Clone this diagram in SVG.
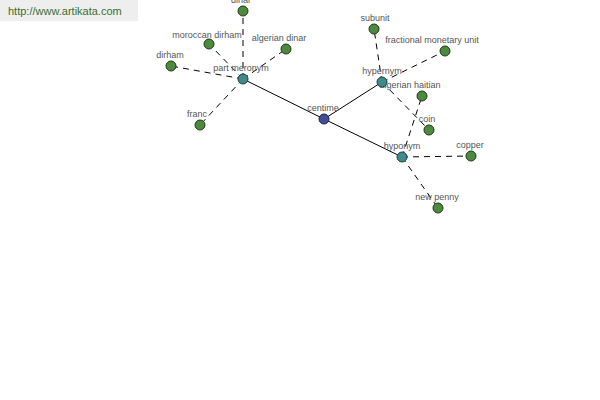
<svg xmlns="http://www.w3.org/2000/svg" width="600" height="400" viewBox="0 0 600 400">
<style>
.bg{fill:#ffffff}
.wm{fill:#eeeeee}
.wmt{font-family:"Liberation Sans",Arial,sans-serif;font-size:11px;fill:#3a6e2e}
.lbl{font-family:"Liberation Sans",Arial,sans-serif;font-size:9px;fill:#555555;text-anchor:middle}
.d{stroke:#000;stroke-width:1;stroke-dasharray:6,5;fill:none}
.s{stroke:#000;stroke-width:1;fill:none}
.leaf{fill:#4d8a3e;stroke:#1f3a18;stroke-width:1}
.mid{fill:#3f8a8c;stroke:#1c3f40;stroke-width:1}
.root{fill:#424e9c;stroke:#1c2248;stroke-width:1}
</style>
<rect class="bg" x="0" y="0" width="600" height="400"/>
<g id="watermark"><rect class="wm" x="0" y="0" width="138" height="21"/><text class="wmt" x="8" y="15">http://www.artikata.com</text></g>
<g id="connectors">
<line class="s" x1="324" y1="119" x2="243" y2="79"/>
<line class="s" x1="324" y1="119" x2="382" y2="82"/>
<line class="s" x1="324" y1="119" x2="402" y2="157"/>
<line class="d" x1="243" y1="79" x2="243" y2="11"/>
<line class="d" x1="243" y1="79" x2="209" y2="44"/>
<line class="d" x1="243" y1="79" x2="286" y2="49"/>
<line class="d" x1="243" y1="79" x2="171" y2="66"/>
<line class="d" x1="243" y1="79" x2="200" y2="125"/>
<line class="d" x1="382" y1="82" x2="374" y2="29"/>
<line class="d" x1="382" y1="82" x2="445" y2="51"/>
<line class="d" x1="382" y1="82" x2="429" y2="130"/>
<line class="d" x1="402" y1="157" x2="422" y2="96"/>
<line class="d" x1="402" y1="157" x2="471" y2="156"/>
<line class="d" x1="402" y1="157" x2="438" y2="208"/>
</g>
<g id="labels">
<text class="lbl" x="241" y="3">dinar</text>
<text class="lbl" x="207" y="38">moroccan dirham</text>
<text class="lbl" x="279" y="41">algerian dinar</text>
<text class="lbl" x="170" y="58">dirham</text>
<text class="lbl" x="241" y="71">part meronym</text>
<text class="lbl" x="197" y="117">franc</text>
<text class="lbl" x="323" y="111">centime</text>
<text class="lbl" x="375" y="21">subunit</text>
<text class="lbl" x="432" y="43">fractional monetary unit</text>
<text class="lbl" x="382" y="74">hypernym</text>
<text class="lbl" x="410" y="88">algerian haitian</text>
<text class="lbl" x="427" y="122">coin</text>
<text class="lbl" x="402" y="149">hyponym</text>
<text class="lbl" x="470" y="148">copper</text>
<text class="lbl" x="437" y="200">new penny</text>
</g>
<g id="n-dinar"><circle class="leaf" cx="243" cy="11" r="5"/></g>
<g id="n-moroccan-dirham"><circle class="leaf" cx="209" cy="44" r="5"/></g>
<g id="n-algerian-dinar"><circle class="leaf" cx="286" cy="49" r="5"/></g>
<g id="n-dirham"><circle class="leaf" cx="171" cy="66" r="5"/></g>
<g id="n-franc"><circle class="leaf" cx="200" cy="125" r="5"/></g>
<g id="n-subunit"><circle class="leaf" cx="374" cy="29" r="5"/></g>
<g id="n-fractional"><circle class="leaf" cx="445" cy="51" r="5"/></g>
<g id="n-algerian-haitian"><circle class="leaf" cx="422" cy="96" r="5"/></g>
<g id="n-coin"><circle class="leaf" cx="429" cy="130" r="5"/></g>
<g id="n-copper"><circle class="leaf" cx="471" cy="156" r="5"/></g>
<g id="n-new-penny"><circle class="leaf" cx="438" cy="208" r="5"/></g>
<g id="n-part-meronym"><circle class="mid" cx="243" cy="79" r="5"/></g>
<g id="n-hypernym"><circle class="mid" cx="382" cy="82" r="5"/></g>
<g id="n-hyponym"><circle class="mid" cx="402" cy="157" r="5"/></g>
<g id="n-centime"><circle class="root" cx="324" cy="119" r="5"/></g>
</svg>
